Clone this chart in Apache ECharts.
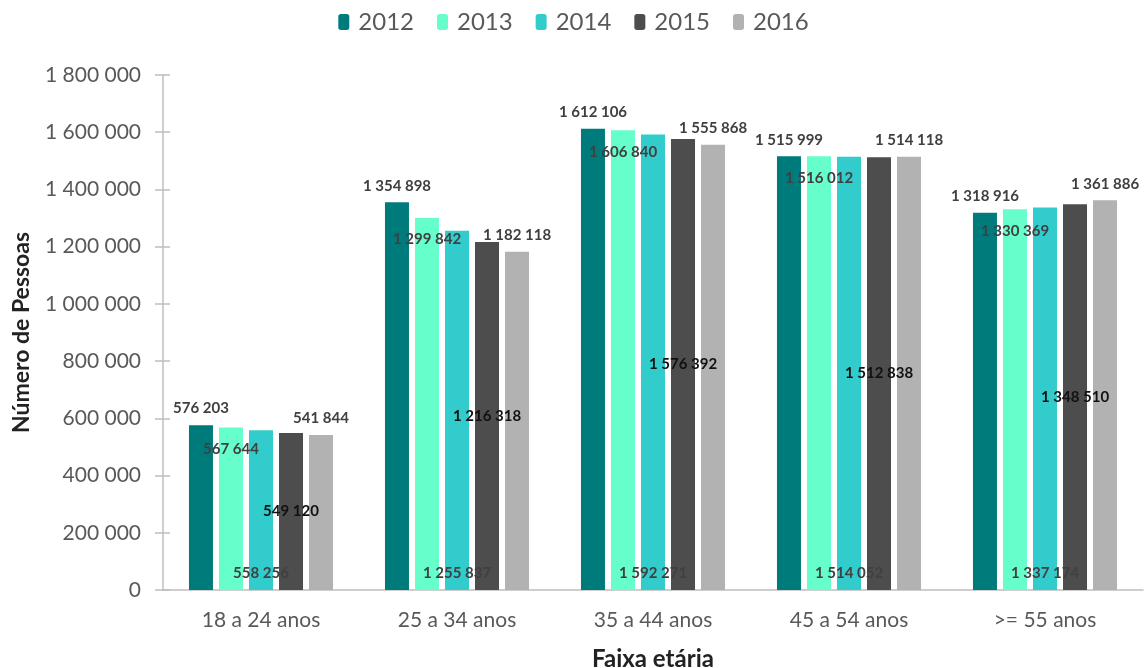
<!DOCTYPE html>
<html>
<head>
<meta charset="utf-8">
<script src="https://cdn.jsdelivr.net/npm/echarts@6/dist/echarts.min.js"></script>
<style>
  html, body { margin: 0; padding: 0; background: #fff; }
  #chart { width: 1147px; height: 668px; }
</style>
</head>
<body>
<div id="chart"></div>
<script>
// Population by age band, 2012–2016
const ageBands = ['18 a 24 anos', '25 a 34 anos', '35 a 44 anos', '45 a 54 anos', '>= 55 anos'];
const years = ['2012', '2013', '2014', '2015', '2016'];
const values2012 = [576203, 1354898, 1612106, 1515999, 1318916];
const values2013 = [567644, 1299842, 1606840, 1516012, 1330369];
const values2014 = [558256, 1255837, 1592271, 1514052, 1337174];
const values2015 = [549120, 1216318, 1576392, 1512838, 1348510];
const values2016 = [541844, 1182118, 1555868, 1514118, 1361886];
const yTicks = { min: 0, max: 1800000, step: 200000 };

const colors = ['#007B7B', '#66FFCC', '#33CCCC', '#4D4D4D', '#B2B2B2'];
const FONT = 'Lato, "Noto Sans", sans-serif';

function spaced(n) {
  return String(n).replace(/\B(?=(\d{3})+(?!\d))/g, ' ');
}

// each year's value label sits at a different spot on its bar
const labelSpots = [
  { position: 'top', distance: 9, color: '#404040' },
  { position: 'insideTop', distance: 14, color: '#404040' },
  { position: 'insideBottom', distance: 9, color: '#404040' },
  { position: 'inside', color: '#111' },
  { position: 'top', distance: 9, color: '#404040' }
];

const allValues = [values2012, values2013, values2014, values2015, values2016];

const series = years.map((y, i) => ({
  name: y,
  type: 'bar',
  data: allValues[i],
  barGap: '25%',
  barCategoryGap: '26.5%',
  itemStyle: { color: colors[i] },
  label: Object.assign({
    show: true,
    fontFamily: FONT,
    fontSize: 15,
    fontWeight: 'bold',
    formatter: p => spaced(p.value)
  }, labelSpots[i])
}));

const axisGrey = '#BFBFBF';

const chart = echarts.init(document.getElementById('chart'));
chart.setOption({
  animation: false,
  color: colors,
  legend: {
    top: 5,
    left: 'center',
    itemWidth: 11,
    itemHeight: 16,
    itemGap: 23,
    textStyle: { fontFamily: FONT, fontSize: 24, color: '#595959', padding: [0, 0, 0, 4] },
    data: years
  },
  grid: { left: 163, right: 4, top: 75, bottom: 78, outerBoundsMode: 'none' },
  xAxis: {
    type: 'category',
    data: ageBands,
    name: 'Faixa etária',
    nameLocation: 'middle',
    nameGap: 57,
    nameTextStyle: { fontFamily: FONT, fontSize: 24, fontWeight: 'bold', color: '#222' },
    axisLine: { lineStyle: { color: axisGrey, width: 1.5 } },
    axisTick: { show: false },
    axisLabel: { fontFamily: FONT, fontSize: 21, color: '#595959', margin: 20 }
  },
  yAxis: [{
    type: 'value',
    min: yTicks.min,
    max: yTicks.max,
    interval: yTicks.step,
    name: 'Número de Pessoas',
    nameLocation: 'middle',
    nameGap: 130,
    nameTextStyle: { fontFamily: FONT, fontSize: 23, fontWeight: 'bold', color: '#222' },
    axisLine: { show: true, lineStyle: { color: axisGrey, width: 1.5 } },
    axisTick: { show: true, inside: false, length: 8, lineStyle: { color: axisGrey, width: 1.5 } },
    splitLine: { show: false },
    axisLabel: { fontFamily: FONT, fontSize: 21, color: '#595959', margin: 22, formatter: v => spaced(v) }
  }, {
    // inner half of the crossing tick marks
    type: 'value',
    position: 'left',
    min: yTicks.min,
    max: yTicks.max,
    interval: yTicks.step,
    axisLine: { show: false },
    axisTick: { show: true, inside: true, length: 7, lineStyle: { color: axisGrey, width: 1.5 } },
    axisLabel: { show: false },
    splitLine: { show: false }
  }],
  series: series
});
</script>
</body>
</html>
